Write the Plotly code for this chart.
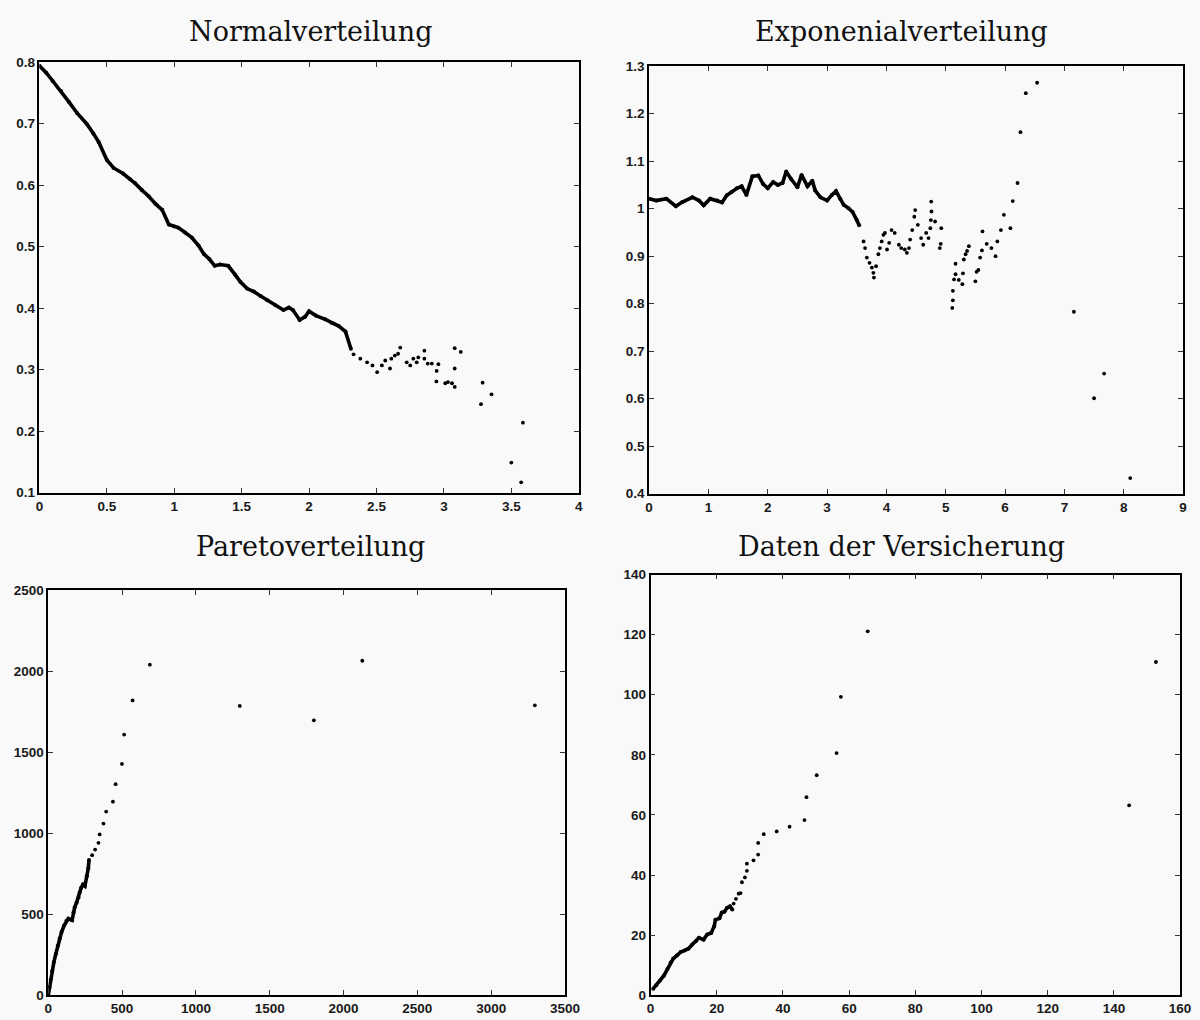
import plotly.graph_objects as go

# ---------------- data ----------------
norm_dense_x = [0, 0.05, 0.10, 0.16, 0.22, 0.28, 0.35, 0.40, 0.44, 0.50, 0.55, 0.62, 0.67, 0.71, 0.76,
                0.81, 0.86, 0.91, 0.96, 1.0, 1.03, 1.08, 1.13, 1.18, 1.22, 1.26, 1.30, 1.34, 1.40, 1.45,
                1.49, 1.54, 1.59, 1.64, 1.69, 1.75, 1.81, 1.85, 1.88, 1.93, 1.97, 2.0, 2.05, 2.12, 2.17,
                2.22, 2.27, 2.31]
norm_dense_y = [0.794, 0.783, 0.769, 0.753, 0.735, 0.717, 0.700, 0.684, 0.670, 0.641, 0.628, 0.619, 0.610,
                0.603, 0.592, 0.582, 0.570, 0.560, 0.536, 0.533, 0.531, 0.523, 0.515, 0.502, 0.488, 0.480,
                0.469, 0.471, 0.469, 0.455, 0.443, 0.432, 0.427, 0.420, 0.413, 0.405, 0.397, 0.401, 0.397,
                0.381, 0.386, 0.395, 0.388, 0.382, 0.376, 0.371, 0.362, 0.334]
norm_sparse_x = [2.33, 2.38, 2.43, 2.47, 2.505, 2.54, 2.565, 2.60, 2.61, 2.636, 2.66, 2.676, 2.724, 2.75,
                 2.773, 2.798, 2.81, 2.855, 2.855, 2.88, 2.91, 2.944, 2.946, 2.959, 3.01, 3.03, 3.06, 3.08,
                 3.08, 3.08, 3.125, 3.275, 3.287, 3.353, 3.5, 3.573, 3.586]
norm_sparse_y = [0.325, 0.318, 0.312, 0.307, 0.296, 0.307, 0.315, 0.302, 0.318, 0.323, 0.326, 0.336, 0.312,
                 0.307, 0.318, 0.312, 0.320, 0.331, 0.318, 0.310, 0.310, 0.281, 0.298, 0.309, 0.278, 0.280,
                 0.278, 0.272, 0.302, 0.335, 0.329, 0.244, 0.279, 0.260, 0.149, 0.117, 0.214]

exp_dense_x = [0, 0.12, 0.29, 0.45, 0.56, 0.73, 0.84, 0.92, 1.03, 1.15, 1.23, 1.31, 1.39, 1.48, 1.56, 1.64,
               1.74, 1.84, 1.92, 2.0, 2.09, 2.17, 2.25, 2.31, 2.39, 2.50, 2.57, 2.67, 2.75, 2.80, 2.89, 3.0,
               3.08, 3.15, 3.22, 3.28, 3.36, 3.43, 3.50, 3.54]
exp_dense_y = [1.021, 1.017, 1.021, 1.005, 1.014, 1.024, 1.017, 1.007, 1.021, 1.017, 1.013, 1.028, 1.035,
               1.043, 1.047, 1.029, 1.068, 1.070, 1.052, 1.043, 1.056, 1.050, 1.054, 1.078, 1.063, 1.045,
               1.071, 1.047, 1.059, 1.038, 1.024, 1.017, 1.029, 1.037, 1.021, 1.008, 1.001, 0.993, 0.976,
               0.965]
exp_sparse_x = [3.615, 3.64, 3.67, 3.715, 3.755, 3.78, 3.79, 3.826, 3.864, 3.89, 3.92, 3.95, 3.975, 4.01,
                4.047, 4.086, 4.14, 4.21, 4.25, 4.31, 4.345, 4.38, 4.40, 4.435, 4.47, 4.485, 4.53, 4.585,
                4.62, 4.67, 4.71, 4.74, 4.75, 4.76, 4.755, 4.82, 4.90, 4.915, 4.925, 5.11, 5.12, 5.12,
                5.14, 5.165, 5.165, 5.22, 5.28, 5.29, 5.305, 5.335, 5.36, 5.39, 5.50, 5.52, 5.55, 5.58,
                5.61, 5.62, 5.69, 5.77, 5.84, 5.87, 5.93, 5.98, 6.09, 6.13, 6.21, 6.26, 6.35, 6.54, 7.16,
                7.50, 7.67, 8.11]
exp_sparse_y = [0.931, 0.917, 0.897, 0.886, 0.876, 0.865, 0.855, 0.879, 0.904, 0.917, 0.931, 0.945, 0.949,
                0.914, 0.928, 0.955, 0.949, 0.924, 0.917, 0.914, 0.907, 0.917, 0.935, 0.955, 0.983, 0.997,
                0.966, 0.938, 0.924, 0.949, 0.938, 0.959, 0.976, 0.994, 1.015, 0.973, 0.917, 0.926, 0.959,
                0.791, 0.807, 0.827, 0.851, 0.862, 0.884, 0.850, 0.841, 0.864, 0.893, 0.904, 0.911, 0.921,
                0.847, 0.867, 0.871, 0.897, 0.912, 0.952, 0.926, 0.917, 0.900, 0.931, 0.955, 0.987, 0.959,
                1.016, 1.054, 1.161, 1.243, 1.265, 0.783, 0.601, 0.653, 0.433]

par_dense_x = [0, 8, 16, 26, 38, 51, 64, 77, 90, 107, 123, 136, 161, 171, 179, 192, 205, 212, 223, 235,
               248, 261, 271, 276]
par_dense_y = [0, 50, 95, 150, 205, 255, 305, 350, 390, 430, 460, 473, 463, 513, 543, 573, 603, 633, 664,
               684, 674, 734, 784, 835]
par_sparse_x = [297, 317, 340, 348, 374, 392, 438, 456, 499, 514, 571, 688, 1297, 1799, 2127, 3296]
par_sparse_y = [865, 899, 941, 993, 1060, 1134, 1195, 1303, 1428, 1609, 1820, 2041, 1786, 1697, 2065, 1790]

ins_dense_x = [0.8, 1.7, 2.85, 4.0, 5.1, 6.05, 6.85, 8.0, 9.1, 10.3, 11.4, 12.6, 13.7, 14.6, 16.0, 17.1,
               18.3, 19.2, 19.6, 20.8, 21.5, 22.3, 23.1, 24.0, 24.7]
ins_dense_y = [2.2, 3.3, 4.9, 6.5, 8.7, 10.9, 12.2, 13.3, 14.4, 14.9, 15.5, 16.9, 18.0, 19.1, 18.5, 20.2,
               20.7, 22.9, 25.1, 25.6, 27.5, 27.8, 29.1, 29.6, 28.5]
ins_sparse_x = [25.1, 25.8, 26.6, 27.2, 27.6, 28.5, 29.1, 29.1, 31.1, 32.5, 32.5, 34.2, 38.1, 42.0, 46.5,
                47.1, 50.2, 56.2, 57.5, 65.6, 144.6, 152.7]
ins_sparse_y = [30.5, 32.1, 33.8, 34.0, 37.6, 39.2, 41.4, 43.8, 44.9, 46.8, 50.7, 53.6, 54.5, 56.1, 58.3,
                65.9, 73.2, 80.6, 99.3, 121.1, 63.2, 110.9]

titles = ["Normalverteilung", "Exponenialverteilung", "Paretoverteilung", "Daten der Versicherung"]

norm_xticks = [0, 0.5, 1, 1.5, 2, 2.5, 3, 3.5, 4]
norm_yticks = [0.1, 0.2, 0.3, 0.4, 0.5, 0.6, 0.7, 0.8]
exp_xticks = [0, 1, 2, 3, 4, 5, 6, 7, 8, 9]
exp_yticks = [0.4, 0.5, 0.6, 0.7, 0.8, 0.9, 1.0, 1.1, 1.2, 1.3]
exp_yticklabels = ["0.4", "0.5", "0.6", "0.7", "0.8", "0.9", "1", "1.1", "1.2", "1.3"]
par_xticks = [0, 500, 1000, 1500, 2000, 2500, 3000, 3500]
par_yticks = [0, 500, 1000, 1500, 2000, 2500]
ins_xticks = [0, 20, 40, 60, 80, 100, 120, 140, 160]
ins_yticks = [0, 20, 40, 60, 80, 100, 120, 140]

# ---------------- figure ----------------
W, H = 1200, 1020
fig = go.Figure()

panels = [
    # (dense x, dense y, sparse x, sparse y, axis suffix, x px range, y px range)
    (norm_dense_x, norm_dense_y, norm_sparse_x, norm_sparse_y, "", (36, 584), (56, 493)),
    (exp_dense_x, exp_dense_y, exp_sparse_x, exp_sparse_y, "2", (655.5, 1198), (60, 494)),
    (par_dense_x, par_dense_y, par_sparse_x, par_sparse_y, "3", (45, 570), (592, 1003)),
    (ins_dense_x, ins_dense_y, ins_sparse_x, ins_sparse_y, "4", (657, 1195), (576, 1003)),
]

for dx, dy, sx, sy, suf, _, _ in panels:
    fig.add_trace(go.Scatter(x=dx, y=dy, mode="lines+markers", xaxis="x" + suf, yaxis="y" + suf,
                             line=dict(color="black", width=3.6),
                             marker=dict(color="black", size=4), showlegend=False, hoverinfo="x+y"))
    fig.add_trace(go.Scatter(x=sx, y=sy, mode="markers", xaxis="x" + suf, yaxis="y" + suf,
                             marker=dict(color="black", size=3.8), showlegend=False, hoverinfo="x+y"))

tickfont = dict(family="Liberation Sans", size=13.5, color="#1a1a1a", weight="bold")
axis_common = dict(showline=True, linecolor="black", linewidth=1.6, mirror="ticks", ticks="inside",
                   ticklen=5, tickwidth=1.2, tickcolor="#333", showgrid=False, zeroline=False,
                   tickfont=tickfont)

ranges = [
    ((0, 4), (0.1, 0.8), norm_xticks, norm_yticks, None),
    ((0, 9), (0.4, 1.3), exp_xticks, exp_yticks, exp_yticklabels),
    ((0, 3500), (0, 2500), par_xticks, par_yticks, None),
    ((0, 160), (0, 140), ins_xticks, ins_yticks, None),
]

layout = dict(width=W, height=H, margin=dict(l=0, r=0, t=0, b=0),
              paper_bgcolor="#f9f9f9", plot_bgcolor="#f9f9f9", showlegend=False)

for (dx, dy, sx, sy, suf, xpx, ypx), (xr, yr, xt, yt, ytl) in zip(panels, ranges):
    xd = [xpx[0] / W, xpx[1] / W]
    yd = [1 - ypx[1] / H, 1 - ypx[0] / H]
    xa = dict(axis_common, domain=xd, range=list(xr), tickvals=xt, anchor="y" + suf)
    ya = dict(axis_common, domain=yd, range=list(yr), tickvals=yt, anchor="x" + suf)
    if ytl:
        ya["ticktext"] = ytl
    layout["xaxis" + suf] = xa
    layout["yaxis" + suf] = ya

title_pos = [(311, 25), (912, 25), (311, 548), (912, 548)]
annotations = []
for t, (px, py) in zip(titles, title_pos):
    annotations.append(dict(text=t, x=px / W, y=1 - py / H, xref="paper", yref="paper",
                            showarrow=False, xanchor="center", yanchor="middle",
                            font=dict(family="DejaVu Serif", size=27, color="#111")))
layout["annotations"] = annotations

fig.update_layout(**layout)
fig.write_html("out.html")
